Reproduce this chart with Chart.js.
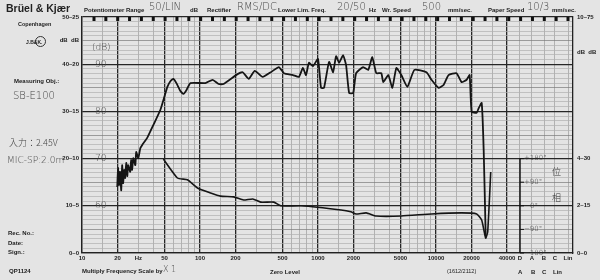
<!DOCTYPE html>
<html>
<head>
<meta charset="utf-8">
<script src="https://cdn.jsdelivr.net/npm/chart.js@4"></script>
<style>
  body { margin: 0; background: #e4e4e4; }
  #wrap { position: relative; width: 600px; height: 280px; background: #e4e4e4; overflow: hidden; }
  #wrap canvas { position: absolute; left: 0; top: 0; }
  .p { position: absolute; font-family: "Liberation Sans", Arial, sans-serif; font-weight: bold; font-size: 6px; color: #222; white-space: nowrap; line-height: 1; }
  .h { position: absolute; font-family: "DejaVu Sans", sans-serif; font-weight: 200; font-size: 10px; color: #444; white-space: nowrap; line-height: 1; }
</style>
</head>
<body>
<div id="wrap">
  <canvas id="chart" width="600" height="280"></canvas>

  <div class="p" style="left:6px;top:3px;font-size:10.5px;">Brüel &amp; Kjær</div>
  <div class="p" style="left:84px;top:7px;">Potentiometer Range</div>
  <div class="h" style="left:149px;top:2px;">50/LIN</div>
  <div class="p" style="left:190px;top:7px;">dB</div>
  <div class="p" style="left:207px;top:7px;">Rectifier</div>
  <div class="h" style="left:237px;top:2px;">RMS/DC</div>
  <div class="p" style="left:278px;top:7px;">Lower Lim. Freq.</div>
  <div class="h" style="left:337px;top:2px;">20/50</div>
  <div class="p" style="left:369px;top:7px;">Hz</div>
  <div class="p" style="left:382px;top:7px;">Wr. Speed</div>
  <div class="h" style="left:422px;top:2px;">500</div>
  <div class="p" style="left:448px;top:7px;">mm/sec.</div>
  <div class="p" style="left:488px;top:7px;">Paper Speed</div>
  <div class="h" style="left:527px;top:2px;">10/3</div>
  <div class="p" style="left:552px;top:7px;">mm/sec.</div>

  <div class="p" style="left:18px;top:22px;font-size:5.5px;">Copenhagen</div>
  <div class="p" style="left:35px;top:36px;width:11px;height:11px;border-radius:50%;border:1.5px solid #333;box-sizing:border-box;"></div>
  <div class="p" style="left:26px;top:39.5px;font-size:5px;">J.B&amp;K.</div>
  <div class="p" style="left:14px;top:78px;">Measuring Obj.:</div>
  <div class="h" style="left:13px;top:91px;">SB-E100</div>
  <div class="h" style="left:9px;top:138px;font-size:9px;font-family:'Noto Sans CJK JP',sans-serif;font-weight:300;">入力：2.45V</div>
  <div class="h" style="left:7px;top:156px;font-size:9px;">MIC-SP:2.0m</div>
  <div class="p" style="left:8px;top:230px;">Rec. No.:</div>
  <div class="p" style="left:8px;top:240px;">Date:</div>
  <div class="p" style="left:8px;top:249px;">Sign.:</div>
  <div class="p" style="left:9px;top:268px;">QP1124</div>
  <div class="p" style="left:82px;top:268px;">Multiply Frequency Scale by</div>
  <div class="h" style="left:163px;top:266px;font-size:8px;">X 1</div>
  <div class="p" style="left:270px;top:269px;">Zero Level</div>
  <div class="p" style="left:447px;top:269px;font-size:5.5px;font-weight:normal;">(1612/2112)</div>
  <div class="p" style="left:518px;top:269px;">A</div>
  <div class="p" style="left:531px;top:269px;">B</div>
  <div class="p" style="left:542px;top:269px;">C</div>
  <div class="p" style="left:553px;top:269px;">Lin</div>
</div>

<script>
// ---- data ----
// frequency response (Hz, dB)
const splFreq = [19.9, 20.2, 20.6, 21.0, 21.5, 21.9, 22.3, 22.8, 23.2, 23.7, 24.2, 24.6, 25.6, 26.1, 26.6, 27.2,
  28.3, 28.8, 30.0, 31.2, 32.4, 35.7, 40.2, 46.1, 49.9, 52.9, 56.1, 59.5, 63.1, 68.2, 72.4, 76.7, 83, 111,
  128, 144, 158, 208, 230, 259, 291, 340, 398, 466, 514, 613, 689, 745, 791, 838, 906, 1000, 1061, 1125,
  1241, 1343, 1423, 1510, 1633, 1730, 1836, 1986, 2104, 2415, 2666, 2884, 3118, 3438, 3575, 3944, 4266,
  4613, 5085, 5718, 6561, 8299, 9160, 10500, 11590, 12770, 14930, 16480, 18200, 19280, 20050, 22130,
  23010, 24390, 25360, 26370];
const splDb = [64.0, 68.0, 64.4, 67.2, 63.3, 68.6, 64.8, 67.6, 65.9, 69.1, 66.3, 68.6, 67.2, 69.7, 67.6, 70.1,
  68.6, 71.4, 70.1, 72.2, 72.9, 74.4, 77.1, 80.3, 83.1, 85.2, 86.4, 86.9, 86.0, 84.3, 83.7, 84.5, 86.0, 86.0,
  86.7, 85.8, 85.8, 87.9, 88.3, 86.9, 88.6, 87.3, 88.3, 89.4, 88.1, 87.7, 87.3, 89.2, 87.7, 90.3, 89.6, 91.1,
  85.0, 85.0, 90.5, 88.3, 91.7, 90.3, 91.9, 89.8, 83.9, 83.9, 88.1, 89.4, 88.8, 91.5, 88.1, 88.1, 86.2, 87.7,
  85.0, 89.2, 87.7, 85.2, 88.8, 88.3, 86.7, 85.0, 85.6, 87.7, 88.1, 86.2, 86.7, 87.7, 79.9, 79.7, 80.7, 81.8,
  71.8, 53.6];

// phase (Hz, degrees)
const phaseFreq = [48.9, 64.3, 78.3, 95.2, 123, 149, 193, 234, 280, 327, 422, 484, 717, 1570, 1900, 2104,
  2563, 3118, 5085, 9160, 16480, 22130, 24390, 26370, 27420, 29100];
const phaseDeg = [178, 106, 99, 68, 49, 37, 34, 22, 26, 14, 14, 0, 0, -16, -23, -31, -27, -39, -39, -31,
  -27, -31, -54, -123, -100, 129];

// x axis: grid frequencies and labels
const gridFreqs = [10, 15, 20, 30, 40, 50, 60, 70, 80, 90, 100, 150, 200, 300, 400, 500, 600, 700, 800, 900,
  1000, 1500, 2000, 3000, 4000, 5000, 6000, 7000, 8000, 9000, 10000, 15000, 20000, 30000, 40000];
const majorFreqs = [10, 20, 50, 100, 200, 500, 1000, 2000, 5000, 10000, 20000, 40000];
const freqLabels = { 10: '10', 20: '20', 30: 'Hz', 50: '50', 100: '100', 200: '200', 500: '500', 1000: '1000',
  2000: '2000', 5000: '5000', 10000: '10000', 20000: '20000', 40000: '40000' };
const weightPos = [51500, 65100, 82300, 101900, 131500];
const weightLabels = ['D', 'A', 'B', 'C', 'Lin'];

// y axes (dB 50..100 on the pen scale), paper scale labels
const leftTicks = [50, 60, 70, 80, 90, 95, 100];
const leftLabels = ['0–0', '10–5', '20–10', '30–15', '40–20', 'dB  dB', '50–25'];
const rightTicks = [50, 60, 70, 92.5, 100];
const rightLabels = ['0–0', '2–15', '4–30', 'dB  dB', '10–75'];
const innerDb = [60, 70, 80, 90];
const phaseMarks = [180, 90, 0, -90, -180];
const phaseMarkLabels = ['+180°', '+90°', '0°', '−90°', '−180°'];

const printed = '"Liberation Sans", Arial, sans-serif';
const hand = '"DejaVu Sans", sans-serif';

const paperPlugin = {
  id: 'paper',
  afterDraw(chart) {
    const { ctx, chartArea: a, scales } = chart;
    const x = scales.x, yP = scales.yPhase, y = scales.y;
    ctx.save();
    // recorder timing marks along the top edge
    ctx.fillStyle = '#111';
    for (let px = a.left + 12; px < a.right - 3; px += 11.85) {
      ctx.fillRect(px - 1.5, a.top, 3, 4);
    }
    // phase scale
    const xp = x.getPixelForValue(weightPos[0]);
    ctx.strokeStyle = '#111';
    ctx.lineWidth = 1.5;
    ctx.beginPath();
    ctx.moveTo(xp, yP.getPixelForValue(180));
    ctx.lineTo(xp, a.bottom);
    ctx.stroke();
    ctx.fillStyle = '#333';
    ctx.font = '300 7px ' + hand;
    ctx.textBaseline = 'middle';
    phaseMarks.forEach((d, i) => {
      const py = yP.getPixelForValue(d);
      ctx.lineWidth = 1;
      ctx.beginPath();
      ctx.moveTo(xp, py);
      ctx.lineTo(xp + 4, py);
      ctx.stroke();
      ctx.fillText(phaseMarkLabels[i], xp + (d === 0 ? 10 : 4), py);
    });
    ctx.font = '300 9px "Noto Sans CJK JP", sans-serif';
    ctx.fillText('位', x.getPixelForValue(weightPos[3]) - 3, yP.getPixelForValue(130));
    ctx.fillText('相', x.getPixelForValue(weightPos[3]) - 3, yP.getPixelForValue(30));
    // handwritten dB scale inside the plot
    ctx.font = '300 9px ' + hand;
    ctx.fillStyle = '#444';
    const xl = x.getPixelForValue(14.2);
    innerDb.forEach(v => ctx.fillText(String(v), xl - 5, y.getPixelForValue(v)));
    ctx.fillText('(dB)', xl - 8, y.getPixelForValue(93.5));
    ctx.restore();
  }
};

new Chart(document.getElementById('chart'), {
  type: 'line',
  data: {
    datasets: [
      {
        label: 'Response',
        data: splFreq.map((f, i) => ({ x: f, y: splDb[i] })),
        borderColor: '#151515',
        borderWidth: 1.8,
        pointRadius: 0,
        tension: 0.15,
        yAxisID: 'y'
      },
      {
        label: 'Phase',
        data: phaseFreq.map((f, i) => ({ x: f, y: phaseDeg[i] })),
        borderColor: '#151515',
        borderWidth: 1.6,
        pointRadius: 0,
        tension: 0.15,
        yAxisID: 'yPhase'
      }
    ]
  },
  options: {
    responsive: false,
    animation: false,
    layout: { padding: { top: 17, left: 0, right: 0, bottom: 0 } },
    plugins: { legend: { display: false }, tooltip: { enabled: false } },
    scales: {
      x: {
        type: 'logarithmic',
        min: 10,
        max: 144900,
        afterBuildTicks: s => { s.ticks = gridFreqs.concat(weightPos).map(v => ({ value: v })); },
        afterFit: s => { s.height = 27; },
        ticks: {
          autoSkip: false,
          maxRotation: 0,
          padding: 2,
          color: '#222',
          font: { family: printed, size: 6, weight: 'bold' },
          callback: v => {
            const w = weightPos.indexOf(v);
            if (w >= 0) return weightLabels[w];
            return freqLabels[v] || '';
          }
        },
        grid: {
          drawTicks: false,
          color: c => majorFreqs.includes(c.tick.value) ? '#262626' : '#9c9c9c',
          lineWidth: c => majorFreqs.includes(c.tick.value) ? 1.3 : 0.7
        },
        border: { color: '#222', width: 1.3 }
      },
      y: {
        min: 50,
        max: 100,
        afterBuildTicks: s => {
          const t = [];
          for (let v = 50; v <= 100; v++) t.push({ value: v });
          s.ticks = t;
        },
        afterFit: s => { s.width = 82; },
        ticks: {
          autoSkip: false,
          padding: 3,
          color: '#222',
          font: { family: printed, size: 6, weight: 'bold' },
          callback: v => {
            const k = leftTicks.indexOf(v);
            return k >= 0 ? leftLabels[k] : '';
          }
        },
        grid: {
          drawTicks: false,
          color: c => c.tick.value % 10 === 0 ? '#262626' : (c.tick.value % 5 === 0 ? '#7a7a7a' : '#b0b0b0'),
          lineWidth: c => c.tick.value % 10 === 0 ? 1.2 : 0.7
        },
        border: { color: '#222', width: 1.3 }
      },
      yR: {
        position: 'right',
        min: 50,
        max: 100,
        afterBuildTicks: s => { s.ticks = rightTicks.map(v => ({ value: v })); },
        afterFit: s => { s.width = 27; },
        ticks: {
          autoSkip: false,
          padding: 4,
          color: '#222',
          font: { family: printed, size: 6, weight: 'bold' },
          callback: v => {
            const k = rightTicks.indexOf(v);
            return k >= 0 ? rightLabels[k] : '';
          }
        },
        grid: { display: false, drawTicks: false },
        border: { color: '#222', width: 1.3 }
      },
      yPhase: { display: false, min: -180, max: 720 }
    }
  },
  plugins: [paperPlugin]
});
</script>
</body>
</html>
